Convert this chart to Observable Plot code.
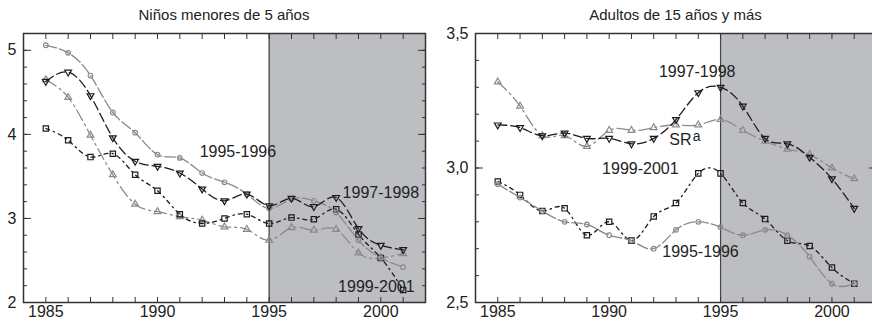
<!DOCTYPE html>
<html>
<head>
<meta charset="utf-8">
<script src="https://cdn.jsdelivr.net/npm/d3@7"></script>
<script src="https://cdn.jsdelivr.net/npm/@observablehq/plot@0.6"></script>
<style>
  html, body { margin: 0; padding: 0; background: #fff; overflow: hidden; width: 872px; height: 322px; }
  #wrap { display: flex; width: 900px; font-family: "Liberation Sans", Arial, sans-serif; }
  .panel { position: relative; }
  .title { position: absolute; top: 6px; font-size: 15px; color: #222; text-align: center; white-space: nowrap; }
  svg { display: block; }
</style>
</head>
<body>
<div id="wrap"></div>
<script>
// ---- data ----
const years = [1985, 1986, 1987, 1988, 1989, 1990, 1991, 1992, 1993, 1994, 1995, 1996, 1997, 1998, 1999, 2000, 2001];
const seriesNames = ["1995-1996", "1997-1998", "1999-2001", "SRa"];

// Niños menores de 5 años
const kids_1995_1996 = [5.06, 4.97, 4.70, 4.26, 4.02, 3.76, 3.72, 3.54, 3.43, 3.29, 3.12, 3.23, 3.21, 3.07, 2.74, 2.53, 2.42];
const kids_1997_1998 = [4.63, 4.74, 4.46, 3.96, 3.68, 3.62, 3.54, 3.35, 3.21, 3.29, 3.15, 3.24, 3.14, 3.25, 2.88, 2.68, 2.63];
const kids_1999_2001 = [4.07, 3.93, 3.73, 3.77, 3.52, 3.33, 3.05, 2.94, 3.00, 3.05, 2.94, 3.01, 2.99, 3.11, 2.81, 2.53, 2.15];
const kids_SRa       = [4.65, 4.44, 3.99, 3.52, 3.17, 3.08, 3.02, 2.98, 2.90, 2.87, 2.74, 2.89, 2.86, 2.87, 2.59, 2.53, 2.58];

// Adultos de 15 años y más
const adults_1995_1996 = [2.94, 2.89, 2.84, 2.80, 2.79, 2.75, 2.73, 2.70, 2.77, 2.80, 2.78, 2.75, 2.77, 2.75, 2.67, 2.57, 2.57];
const adults_1997_1998 = [3.16, 3.15, 3.12, 3.13, 3.11, 3.11, 3.09, 3.11, 3.18, 3.28, 3.30, 3.23, 3.11, 3.09, 3.04, 2.96, 2.85];
const adults_1999_2001 = [2.95, 2.90, 2.84, 2.85, 2.75, 2.80, 2.73, 2.82, 2.87, 2.98, 2.98, 2.87, 2.81, 2.73, 2.71, 2.63, 2.57];
const adults_SRa       = [3.32, 3.23, 3.12, 3.12, 3.08, 3.14, 3.14, 3.15, 3.16, 3.16, 3.18, 3.14, 3.10, 3.07, 3.05, 3.00, 2.96];

// shaded period
const shadeStart = 1995;
const shadeEnd = 2002;

// tick labels
const xTickLabels = [1985, 1990, 1995, 2000];
const kidsYTicks = [2, 3, 4, 5];
const adultsYTicks = [2.5, 3.0, 3.5];

// series labels (text, year, value)
const kidsLabels = [
  {text: "1995-1996", year: 1993.6, value: 3.79},
  {text: "1997-1998", year: 2000.0, value: 3.30},
  {text: "1999-2001", year: 1999.8, value: 2.19}
];
const adultsLabels = [
  {text: "1997-1998", year: 1993.95, value: 3.357},
  {text: "1999-2001", year: 1991.4, value: 2.995},
  {text: "1995-1996", year: 1994.1, value: 2.69}
];
const adultsSR = [{text: "SR", year: 1993.2, value: 3.103}];
const adultsSRsup = [{text: "a", year: 1993.93, value: 3.118}];

// ---- styles ----
const styles = {
  "1995-1996": {stroke: "#8a8a8a", dash: "11,3", symbol: "circle", r: 2.3, rotate: 0},
  "1997-1998": {stroke: "#1c1c1c", dash: "9,4", symbol: "triangle", r: 2.5, rotate: 180},
  "1999-2001": {stroke: "#1c1c1c", dash: "4,4,1.5,4", symbol: "square", r: 3.0, rotate: 0},
  "SRa":       {stroke: "#8a8a8a", dash: "12,4,2,4", symbol: "triangle", r: 2.5, rotate: 0}
};

function rows(name, values) {
  return years.map((y, i) => ({series: name, year: y, value: values[i]}));
}

function panel({title, width, marginLeft, marginRight, data, yDomain, yTicks, yMinor, fmt, labels, extra}) {
  const marks = [
    Plot.rect([{x1: shadeStart, x2: shadeEnd}], {x1: "x1", x2: "x2", fill: "#bdbec1"}),
    Plot.ruleX([shadeStart], {stroke: "#444", strokeWidth: 1.2}),
  ];
  for (const [name, vals] of data) {
    const s = styles[name];
    const d = rows(name, vals);
    marks.push(Plot.line(d, {x: "year", y: "value", stroke: s.stroke, strokeWidth: 1.3, strokeDasharray: s.dash, curve: "natural"}));
    marks.push(Plot.dot(d, {x: "year", y: "value", symbol: () => s.symbol, r: s.r, rotate: s.rotate, stroke: s.stroke, strokeWidth: 1.2, fill: "none"}));
  }
  const ax = {label: null, stroke: "#333"};
  marks.push(
    Plot.text(labels, {x: "year", y: "value", text: "text", fontSize: 16, fill: "#222"}),
    ...(extra || []),
    // inward ticks
    Plot.axisX({...ax, anchor: "bottom", ticks: years, tickSize: -5, tickFormat: () => ""}),
    Plot.axisX({...ax, anchor: "top", ticks: years, tickSize: -5, tickFormat: () => ""}),
    Plot.axisY({...ax, anchor: "left", ticks: yMinor, tickSize: -4, tickFormat: () => ""}),
    Plot.axisY({...ax, anchor: "right", ticks: yMinor, tickSize: -4, tickFormat: () => ""}),
    Plot.axisY({...ax, anchor: "left", ticks: yTicks, tickSize: -8, tickFormat: () => ""}),
    Plot.axisY({...ax, anchor: "right", ticks: yTicks, tickSize: -8, tickFormat: () => ""}),
    // labels
    Plot.axisX({label: null, anchor: "bottom", ticks: xTickLabels, tickSize: 0, tickPadding: 3, tickFormat: d => String(d), fontSize: 16, fill: "#222"}),
    Plot.axisY({label: null, anchor: "left", ticks: yTicks, tickSize: 0, tickPadding: 7, tickFormat: fmt, fontSize: 16, fill: "#222"}),
    Plot.frame({stroke: "#333", strokeWidth: 1.5})
  );
  const svg = Plot.plot({
    width, height: 296,
    marginTop: 7, marginBottom: 20, marginLeft, marginRight,
    x: {domain: [1984, 2002], label: null},
    y: {domain: yDomain, label: null},
    style: {fontFamily: "'Liberation Sans', Arial, sans-serif", background: "transparent", overflow: "visible"},
    marks
  });
  const div = document.createElement("div");
  div.className = "panel";
  div.style.width = width + "px";
  div.style.paddingTop = "26px";
  const t = document.createElement("div");
  t.className = "title";
  t.textContent = title;
  t.style.left = marginLeft + "px";
  t.style.width = (width - marginLeft - marginRight) + "px";
  div.appendChild(t);
  div.appendChild(svg);
  return div;
}

const wrap = document.getElementById("wrap");
wrap.appendChild(panel({
  title: "Niños menores de 5 años",
  width: 440, marginLeft: 23, marginRight: 15,
  data: [["SRa", kids_SRa], ["1999-2001", kids_1999_2001], ["1995-1996", kids_1995_1996], ["1997-1998", kids_1997_1998]],
  yDomain: [2, 5.2], yTicks: kidsYTicks, yMinor: d3.range(2, 5.21, 0.2),
  fmt: d => String(d), labels: kidsLabels
}));
wrap.appendChild(panel({
  title: "Adultos de 15 años y más",
  width: 436, marginLeft: 35, marginRight: 0,
  data: [["SRa", adults_SRa], ["1999-2001", adults_1999_2001], ["1995-1996", adults_1995_1996], ["1997-1998", adults_1997_1998]],
  yDomain: [2.5, 3.5], yTicks: adultsYTicks, yMinor: d3.range(2.5, 3.51, 0.1),
  fmt: d => d.toFixed(1).replace(".", ","), labels: adultsLabels,
  extra: [
    Plot.text(adultsSR, {x: "year", y: "value", text: "text", fontSize: 16, fill: "#222"}),
    Plot.text(adultsSRsup, {x: "year", y: "value", text: "text", fontSize: 14, fill: "#222"})
  ]
}));
</script>
</body>
</html>
